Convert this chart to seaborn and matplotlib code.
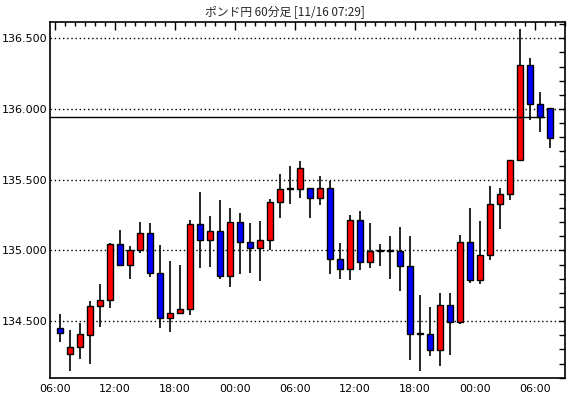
import numpy as np
import pandas as pd
import seaborn as sns
import matplotlib
matplotlib.use('Agg')
import matplotlib.pyplot as plt
from matplotlib.ticker import MultipleLocator, FixedLocator

# hourly candles, 06:00 day 1 -> 07:00 day 3
opens = [134.452, 134.271, 134.314, 134.405, 134.605, 134.648, 135.045, 134.900, 135.000, 135.124,
         134.843, 134.521, 134.560, 134.586, 135.185, 135.077, 135.135, 134.816, 135.204, 135.062,
         135.014, 135.077, 135.345, 135.432, 135.432, 135.443, 135.373, 135.443, 134.941, 134.870,
         135.217, 134.917, 134.998, 134.998, 134.998, 134.893, 134.410, 134.412, 134.293, 134.614,
         134.493, 135.057, 134.793, 134.971, 135.328, 135.401, 135.639, 136.311, 136.035, 136.007]
highs = [134.550, 134.438, 134.488, 134.645, 134.760, 135.052, 135.145, 135.031, 135.202, 135.195,
         135.040, 134.924, 134.900, 135.212, 135.414, 135.244, 135.357, 135.298, 135.263, 135.192,
         135.207, 135.366, 135.538, 135.594, 135.630, 135.443, 135.524, 135.488, 135.050, 135.248,
         135.276, 135.193, 135.042, 135.100, 135.165, 135.102, 134.688, 134.602, 134.700, 134.700,
         135.110, 135.302, 135.210, 135.452, 135.443, 135.639, 136.566, 136.361, 136.118, 136.007]
lows = [134.355, 134.145, 134.233, 134.198, 134.462, 134.595, 134.888, 134.795, 134.983, 134.810,
        134.450, 134.426, 134.555, 134.540, 134.876, 134.882, 134.799, 134.744, 134.833, 134.843,
        134.786, 135.000, 135.230, 135.330, 135.370, 135.231, 135.323, 134.833, 134.795, 134.788,
        134.859, 134.875, 134.887, 134.800, 134.714, 134.224, 134.145, 134.252, 134.181, 134.262,
        134.483, 134.769, 134.762, 134.930, 135.151, 135.358, 135.639, 135.920, 135.835, 135.722]
closes = [134.414, 134.317, 134.407, 134.607, 134.652, 135.048, 134.900, 135.000, 135.124, 134.843,
          134.521, 134.557, 134.588, 135.185, 135.077, 135.135, 134.816, 135.204, 135.062, 135.014,
          135.077, 135.345, 135.437, 135.432, 135.585, 135.373, 135.443, 134.941, 134.870, 135.217,
          134.917, 134.998, 134.998, 134.998, 134.893, 134.407, 134.410, 134.293, 134.614, 134.493,
          135.057, 134.793, 134.971, 135.328, 135.401, 135.639, 136.311, 136.035, 135.943, 135.795]
time_labels = ['06:00', '12:00', '18:00', '00:00', '06:00', '12:00', '18:00', '00:00', '06:00']
current_price = 135.943
title = 'ポンド円 60分足 [11/16 07:29]'

df = pd.DataFrame({'open': opens, 'high': highs, 'low': lows, 'close': closes})
df['idx'] = np.arange(len(df))
df['bottom'] = df[['open', 'close']].min(axis=1)
df['height'] = (df['close'] - df['open']).abs()
df['color'] = np.where(df['close'] > df['open'], '#ff0000',
                       np.where(df['close'] < df['open'], '#0000ff', '#000000'))
df.loc[df['height'] < 0.004, 'height'] = 0.006

sns.set_style('white')
plt.rcParams['font.family'] = ['Noto Sans CJK JP', 'DejaVu Sans']

fig = plt.figure(figsize=(5.7, 3.98), dpi=100)
ax = fig.add_axes([50 / 570, 20 / 398, 515 / 570, 356 / 398])

# wicks
ax.vlines(df['idx'], df['low'], df['high'], color='black', linewidth=1.2, zorder=2)
# bodies
ax.bar(df['idx'], df['height'], bottom=df['bottom'], width=0.64, color=df['color'],
       edgecolor='black', linewidth=1.0, zorder=3)

ax.hlines(current_price, -1, 48.5, color='black', linewidth=1.0, zorder=4)

ax.set_xlim(-1, 50.5)
ax.set_ylim(134.098, 136.615)

ax.yaxis.set_major_locator(MultipleLocator(0.5))
ax.yaxis.set_minor_locator(MultipleLocator(0.1))
ax.yaxis.set_major_formatter(matplotlib.ticker.FormatStrFormatter('%.3f'))
ax.grid(axis='y', which='major', color='black', linestyle=(0, (1, 2)), linewidth=1.0, zorder=1)

major_x = [-0.5 + 6 * k for k in range(len(time_labels))]
ax.xaxis.set_major_locator(FixedLocator(major_x))
ax.xaxis.set_minor_locator(FixedLocator(np.arange(-0.5, 50.6, 1)))
ax.set_xticklabels(time_labels)

ax.tick_params(axis='both', which='both', direction='in', top=True, right=True,
               colors='black', labelsize=8, width=1)
ax.tick_params(axis='x', which='major', length=6, pad=4)
ax.tick_params(axis='x', which='minor', length=3)
ax.tick_params(axis='y', which='major', length=4, pad=2)
ax.tick_params(axis='y', which='minor', length=4)
for lab in ax.get_xticklabels() + ax.get_yticklabels():
    lab.set_family('DejaVu Sans')

for s in ax.spines.values():
    s.set_color('black')
    s.set_linewidth(1.2)

fig.text(0.5, 1 - 12 / 398, title, ha='center', va='center', fontsize=8.5)

fig.savefig('out.png', dpi=100)
